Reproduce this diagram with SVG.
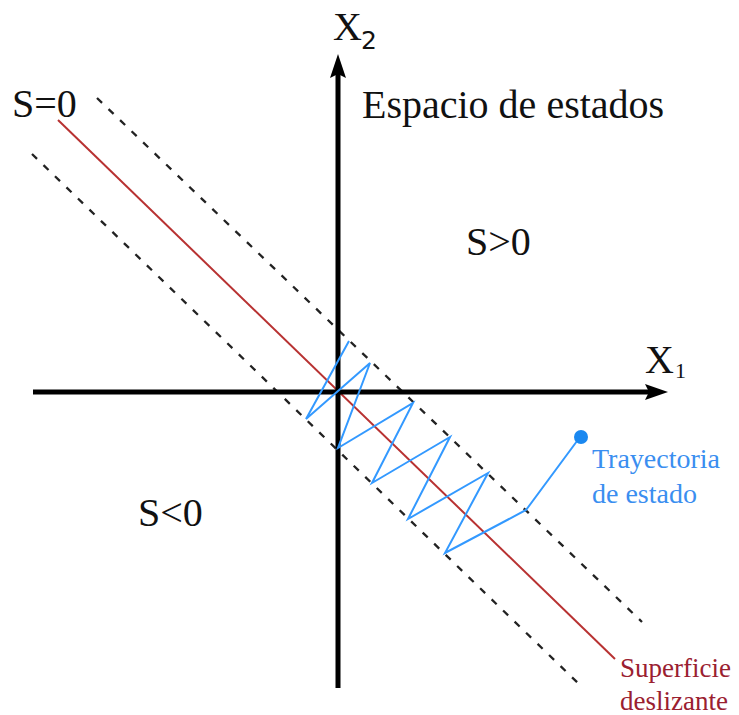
<svg xmlns="http://www.w3.org/2000/svg" width="739" height="715" viewBox="0 0 739 715">
<style>
.serif{font-family:"Liberation Serif","Times New Roman",serif;}
.lbl{font-size:40px;fill:#111;}
.dash{stroke:#222;stroke-width:2.3;stroke-dasharray:7 9;fill:none;}
.axis{stroke:#000;stroke-width:5;fill:none;}
.traj{stroke:#3399ff;stroke-width:2;fill:none;stroke-linejoin:miter;}
</style>
<rect width="739" height="715" fill="#fff"/>
<g id="connectors">
  <line class="dash" x1="97" y1="98" x2="642" y2="622"/>
  <line class="dash" x1="32" y1="154" x2="580" y2="685"/>
  <line x1="58" y1="120" x2="615" y2="659" stroke="#b83232" stroke-width="2"/>
  <g id="axes">
    <line class="axis" x1="33" y1="392" x2="650" y2="392"/>
    <polygon points="668,392 645,384 649,392 645,400" fill="#000"/>
    <line class="axis" x1="338" y1="688" x2="338" y2="72"/>
    <polygon points="338,54 330,78 338,74 346,78" fill="#000"/>
  </g>
  <polyline id="trayectoria" class="traj" points="580,437 526,510 445,553 488,473 408,519 450,437 372,483 413,403 338,448 370,363 306,419 349,341"/>
  <circle cx="581" cy="437" r="7" fill="#1a88f0"/>
</g>
<g id="labels">
  <g id="x2"><text class="serif lbl" x="333" y="40" font-size="38">X</text><text x="361" y="49" font-family="DejaVu Sans, sans-serif" font-size="25" fill="#111">2</text></g>
  <g id="x1"><text class="serif lbl" x="645" y="373">X</text><text class="serif" x="675" y="378" font-size="22" fill="#111">1</text></g>
  <text id="s0" class="serif lbl" x="12" y="117">S=0</text>
  <text id="espacio" class="serif lbl" x="362" y="118">Espacio de estados</text>
  <text id="spos" class="serif lbl" x="466" y="255">S&gt;0</text>
  <text id="sneg" class="serif lbl" x="138" y="526">S&lt;0</text>
  <g id="tray-label" class="serif" font-size="28" fill="#3a8ef0"><text x="592" y="468">Trayectoria</text><text x="592" y="503">de estado</text></g>
  <g id="sup-label" class="serif" font-size="27" fill="#9a2030"><text x="620" y="677">Superficie</text><text x="620" y="710">deslizante</text></g>
</g>
</svg>
